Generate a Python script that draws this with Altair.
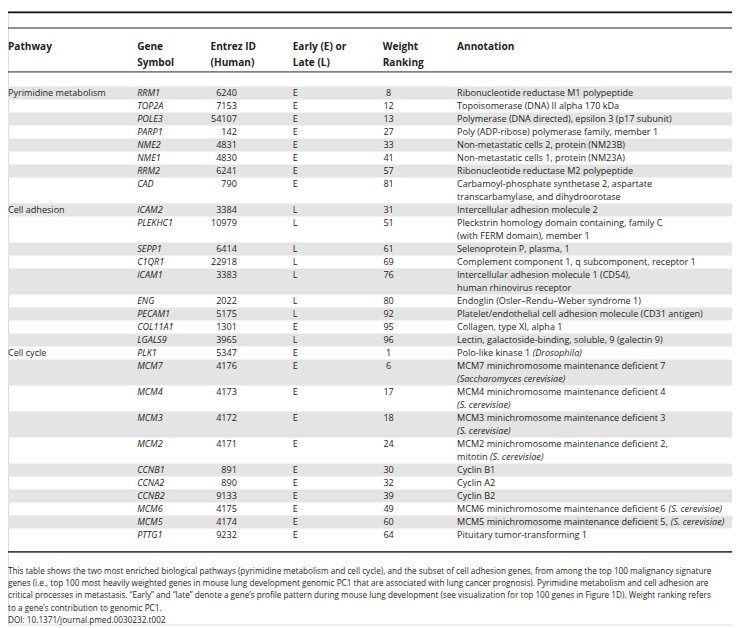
import altair as alt
import pandas as pd

# ---------------- data ----------------
pathways = ["Pyrimidine metabolism", "Cell adhesion", "Cell cycle"]
pathway_counts = [8, 9, 11]

genes = ["RRM1", "TOP2A", "POLE3", "PARP1", "NME2", "NME1", "RRM2", "CAD",
         "ICAM2", "PLEKHC1", "SEPP1", "C1QR1", "ICAM1", "ENG", "PECAM1", "COL11A1", "LGALS9",
         "PLK1", "MCM7", "MCM4", "MCM3", "MCM2", "CCNB1", "CCNA2", "CCNB2", "MCM6", "MCM5", "PTTG1"]
entrez_ids = [6240, 7153, 54107, 142, 4831, 4830, 6241, 790,
              3384, 10979, 6414, 22918, 3383, 2022, 5175, 1301, 3965,
              5347, 4176, 4173, 4172, 4171, 891, 890, 9133, 4175, 4174, 9232]
stages = ["E", "E", "E", "E", "E", "E", "E", "E",
          "L", "L", "L", "L", "L", "L", "L", "E", "L",
          "E", "E", "E", "E", "E", "E", "E", "E", "E", "E", "E"]
weight_ranks = [8, 12, 13, 27, 33, 41, 57, 81,
                31, 51, 61, 69, 76, 80, 92, 95, 96,
                1, 6, 17, 18, 24, 30, 32, 39, 49, 60, 64]
# "|" separates lines, *...* marks italic text
annotations = [
    "Ribonucleotide reductase M1 polypeptide",
    "Topoisomerase (DNA) II alpha 170 kDa",
    "Polymerase (DNA directed), epsilon 3 (p17 subunit)",
    "Poly (ADP-ribose) polymerase family, member 1",
    "Non-metastatic cells 2, protein (NM23B)",
    "Non-metastatic cells 1, protein (NM23A)",
    "Ribonucleotide reductase M2 polypeptide",
    "Carbamoyl-phosphate synthetase 2, aspartate|transcarbamylase, and dihydroorotase",
    "Intercellular adhesion molecule 2",
    "Pleckstrin homology domain containing, family C|(with FERM domain), member 1",
    "Selenoprotein P, plasma, 1",
    "Complement component 1, q subcomponent, receptor 1",
    "Intercellular adhesion molecule 1 (CD54),|human rhinovirus receptor",
    "Endoglin (Osler\u2013Rendu\u2013Weber syndrome 1)",
    "Platelet/endothelial cell adhesion molecule (CD31 antigen)",
    "Collagen, type XI, alpha 1",
    "Lectin, galactoside-binding, soluble, 9 (galectin 9)",
    "Polo-like kinase 1 *(Drosophila)*",
    "MCM7 minichromosome maintenance deficient 7|*(Saccharomyces cerevisiae)*",
    "MCM4 minichromosome maintenance deficient 4|*(S. cerevisiae)*",
    "MCM3 minichromosome maintenance deficient 3|*(S. cerevisiae)*",
    "MCM2 minichromosome maintenance deficient 2,|mitotin *(S. cerevisiae)*",
    "Cyclin B1",
    "Cyclin A2",
    "Cyclin B2",
    "MCM6 minichromosome maintenance deficient 6 *(S. cerevisiae)*",
    "MCM5 minichromosome maintenance deficient 5, *(S. cerevisiae)*",
    "Pituitary tumor-transforming 1",
]
headers = [["Pathway"], ["Gene", "Symbol"], ["Entrez ID", "(Human)"],
           ["Early (E) or", "Late (L)"], ["Weight", "Ranking"], ["Annotation"]]
caption_lines = [
    "This table shows the two most enriched biological pathways (pyrimidine metabolism and cell cycle), and the subset of cell adhesion genes, from among the top 100 malignancy signature",
    "genes (i.e., top 100 most heavily weighted genes in mouse lung development genomic PC1 that are associated with lung cancer prognosis). Pyrimidine metabolism and cell adhesion are",
    "critical processes in metastasis. \u201cEarly\u201d and \u201clate\u201d denote a gene\u2019s profile pattern during mouse lung development (see visualization for top 100 genes in Figure 1D). Weight ranking refers",
    "to a gene\u2019s contribution to genomic PC1.",
    "DOI: 10.1371/journal.pmed.0030232.t002",
]

# ---------------- layout ----------------
W, H = 740, 628          # reference frame
PW, PH = 732, 620        # drawable area (page has 8px margin)
FONT = "Open Sans"
FS = 9.2
HEAD_FS = 10.2
CAP_FS = 8.3
INK = "#231f20"
SHADE = "#e4e4e5"
Y0, LH = 77.0, 13.31
COL_X = [0, 132, 207, 291, 383, 459]
ENTREZ_RIGHT = 234
RANK_CENTER = 389

# Open Sans regular advance widths (units per 2048 em)
OS_W = {' ': 532, '(': 597, ')': 597, ',': 502, '-': 659, '.': 545, '/': 752, ':': 545,
        'A': 1296, 'B': 1327, 'C': 1292, 'D': 1493, 'E': 1139, 'F': 1057, 'G': 1491, 'H': 1511,
        'I': 571, 'J': 547, 'K': 1257, 'L': 1073, 'M': 1849, 'N': 1544, 'O': 1595, 'P': 1233,
        'Q': 1595, 'R': 1266, 'S': 1124, 'T': 1133, 'U': 1491, 'V': 1219, 'W': 1896, 'X': 1182,
        'Y': 1147, 'Z': 1169, 'a': 1139, 'b': 1255, 'c': 975, 'd': 1255, 'e': 1149, 'f': 694,
        'g': 1122, 'h': 1257, 'i': 518, 'j': 518, 'k': 1075, 'l': 518, 'm': 1905, 'n': 1257,
        'o': 1237, 'p': 1255, 'q': 1255, 'r': 836, 's': 977, 't': 723, 'u': 1257, 'v': 1026,
        'w': 1593, 'x': 1073, 'y': 1028, 'z': 977}


def text_width(s, fs):
    return sum(OS_W.get(c, 1171) for c in s) * fs / 2048.0


sx = PW / W

rows_rect, txt_normal, txt_italic, txt_right, txt_center, txt_bold, txt_caption = [], [], [], [], [], [], []

line = 0
pw_start = {0: pathways[0], pathway_counts[0]: pathways[1],
            pathway_counts[0] + pathway_counts[1]: pathways[2]}
for i, g in enumerate(genes):
    ann_lines = annotations[i].split("|")
    nl = len(ann_lines)
    top = Y0 + line * LH
    if i % 2 == 0:
        rows_rect.append({"x": 0, "x2": W, "y": top, "y2": top + nl * LH})
    yc = top + LH / 2 + 0.3
    if i in pw_start:
        txt_normal.append({"x": COL_X[0], "y": yc, "t": pw_start[i]})
    txt_italic.append({"x": COL_X[1], "y": yc, "t": g})
    txt_right.append({"x": ENTREZ_RIGHT, "y": yc, "t": str(entrez_ids[i])})
    txt_normal.append({"x": COL_X[3], "y": yc, "t": stages[i]})
    txt_center.append({"x": RANK_CENTER, "y": yc, "t": str(weight_ranks[i])})
    for k, al in enumerate(ann_lines):
        yl = yc + k * LH
        parts = al.split("*")
        xcur = COL_X[5]
        for j, p in enumerate(parts):
            if not p:
                continue
            rec = {"x": xcur, "y": yl, "t": p}
            (txt_italic if j % 2 == 1 else txt_normal).append(rec)
            xcur += text_width(p, FS) / sx
    line += nl

for c, hl in enumerate(headers):
    for k, h in enumerate(hl):
        txt_bold.append({"x": COL_X[c], "y": 37 + k * 15.5, "t": h})

for k, cl in enumerate(caption_lines):
    txt_caption.append({"x": 0, "y": 574 + k * 12.6, "t": cl})

rules = pd.DataFrame([
    {"x": 0, "x2": W, "y": 1.0, "sw": 2.0, "c": "#111111"},
    {"x": 0, "x2": W, "y": 17.0, "sw": 1.0, "c": "#222222"},
    {"x": 0, "x2": W, "y": 62.0, "sw": 1.0, "c": "#222222"},
    {"x": 0, "x2": W, "y": 553.5, "sw": 1.6, "c": "#444444"},
])

xs = alt.Scale(domain=[0, W], nice=False, zero=False)
ys = alt.Scale(domain=[0, H], nice=False, zero=False, reverse=True)


def X(f="x"):
    return alt.X(f + ":Q", scale=xs, axis=None)


def Y(f="y"):
    return alt.Y(f + ":Q", scale=ys, axis=None)


shade = alt.Chart(pd.DataFrame(rows_rect)).mark_rect(color=SHADE).encode(
    x=X(), x2="x2", y=Y(), y2="y2")

rule_layer = alt.Chart(rules).mark_rule().encode(
    x=X(), x2="x2", y=Y(),
    strokeWidth=alt.StrokeWidth("sw:Q", scale=None),
    color=alt.Color("c:N", scale=None))


def tlayer(rows, **kw):
    base = dict(font=FONT, fontSize=FS, color=INK, baseline="middle", align="left")
    base.update(kw)
    return alt.Chart(pd.DataFrame(rows)).mark_text(**base).encode(
        x=X(), y=Y(), text="t:N")


layers = [shade, rule_layer,
          tlayer(txt_normal),
          tlayer(txt_italic, fontStyle="italic"),
          tlayer(txt_right, align="right"),
          tlayer(txt_center, align="center"),
          tlayer(txt_bold, fontWeight="bold", fontSize=HEAD_FS),
          tlayer(txt_caption, fontSize=CAP_FS)]

chart = alt.layer(*layers).properties(
    width=PW, height=PH,
    autosize=alt.AutoSizeParams(type="none"),
    padding=0,
).configure_view(stroke=None).configure(background="white")

chart.save("out.html", embed_options={"renderer": "svg", "actions": False})
